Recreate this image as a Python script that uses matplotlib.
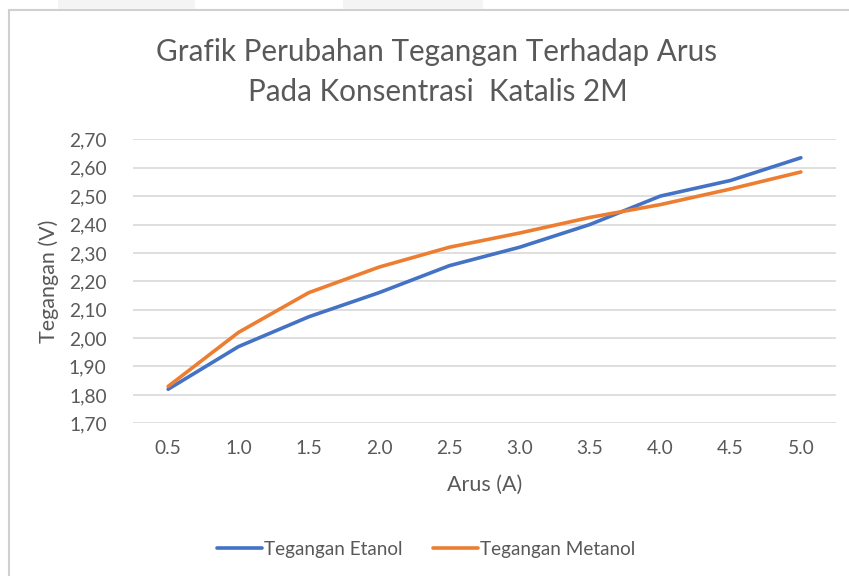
import matplotlib.pyplot as plt
from matplotlib.patches import Rectangle
from matplotlib.ticker import FuncFormatter

# values
arus = ["0.5", "1.0", "1.5", "2.0", "2.5", "3.0", "3.5", "4.0", "4.5", "5.0"]
tegangan_etanol = [1.82, 1.97, 2.075, 2.16, 2.255, 2.32, 2.40, 2.50, 2.555, 2.635]
tegangan_metanol = [1.83, 2.02, 2.16, 2.25, 2.32, 2.37, 2.425, 2.47, 2.525, 2.585]

plt.rcParams["font.family"] = ["Lato", "DejaVu Sans"]
text_color = "#595959"
grid_color = "#D9D9D9"

fig = plt.figure(figsize=(8.49, 5.76), dpi=100)
W, H = 849, 576

# chart frame (top and left border visible) and light tabs above it
fig.patches.append(Rectangle((9 / W, -0.1), 1.2, 1 - 10 / H + 0.1,
                             transform=fig.transFigure, fill=False,
                             edgecolor="#D0D0D0", linewidth=1.5))
for x0, x1 in [(58, 195), (343, 483)]:
    fig.patches.append(Rectangle((x0 / W, 1 - 9 / H), (x1 - x0) / W, 9 / H,
                                 transform=fig.transFigure,
                                 facecolor="#F4F4F4", edgecolor="none"))

ax = fig.add_axes([133 / W, 1 - 423.3 / H, (836 - 133) / W, (423.3 - 139.3) / H])
x = range(len(arus))
ax.plot(x, tegangan_etanol, color="#4472C4", linewidth=2.6,
        solid_capstyle="round", label="Tegangan Etanol", zorder=3)
ax.plot(x, tegangan_metanol, color="#ED7D31", linewidth=2.6,
        solid_capstyle="round", label="Tegangan Metanol", zorder=3)

ax.set_xlim(-0.5, len(arus) - 0.5)
ax.set_ylim(1.70, 2.70)
ax.set_yticks([1.70 + 0.1 * i for i in range(11)])
ax.yaxis.set_major_formatter(FuncFormatter(lambda v, p: f"{v:.2f}".replace(".", ",")))
ax.set_xticks(list(x))
ax.set_xticklabels(arus)
ax.grid(axis="y", color=grid_color, linewidth=1.2)
ax.set_axisbelow(True)
for s in ax.spines.values():
    s.set_visible(False)
ax.tick_params(length=0, colors=text_color, labelsize=13.8)
ax.tick_params(axis="x", pad=12)
ax.tick_params(axis="y", pad=19)

ax.set_xlabel("Arus (A)", fontsize=15.5, color=text_color, labelpad=13)
ax.set_ylabel("Tegangan (V)", fontsize=15.5, color=text_color, labelpad=7)

fig.text(437 / W, 1 - 52 / H, "Grafik Perubahan Tegangan Terhadap Arus",
         ha="center", va="center", fontsize=21.3, color=text_color)
fig.text(438 / W, 1 - 92 / H, "Pada Konsentrasi  Katalis 2M",
         ha="center", va="center", fontsize=21.3, color=text_color)

fig.legend(loc="center", bbox_to_anchor=(426 / W, 1 - 549 / H), ncol=2,
           frameon=False, fontsize=13.6, labelcolor=text_color,
           handlelength=2.4, handletextpad=0.1, columnspacing=1.6)

plt.savefig("out.png", dpi=100)
